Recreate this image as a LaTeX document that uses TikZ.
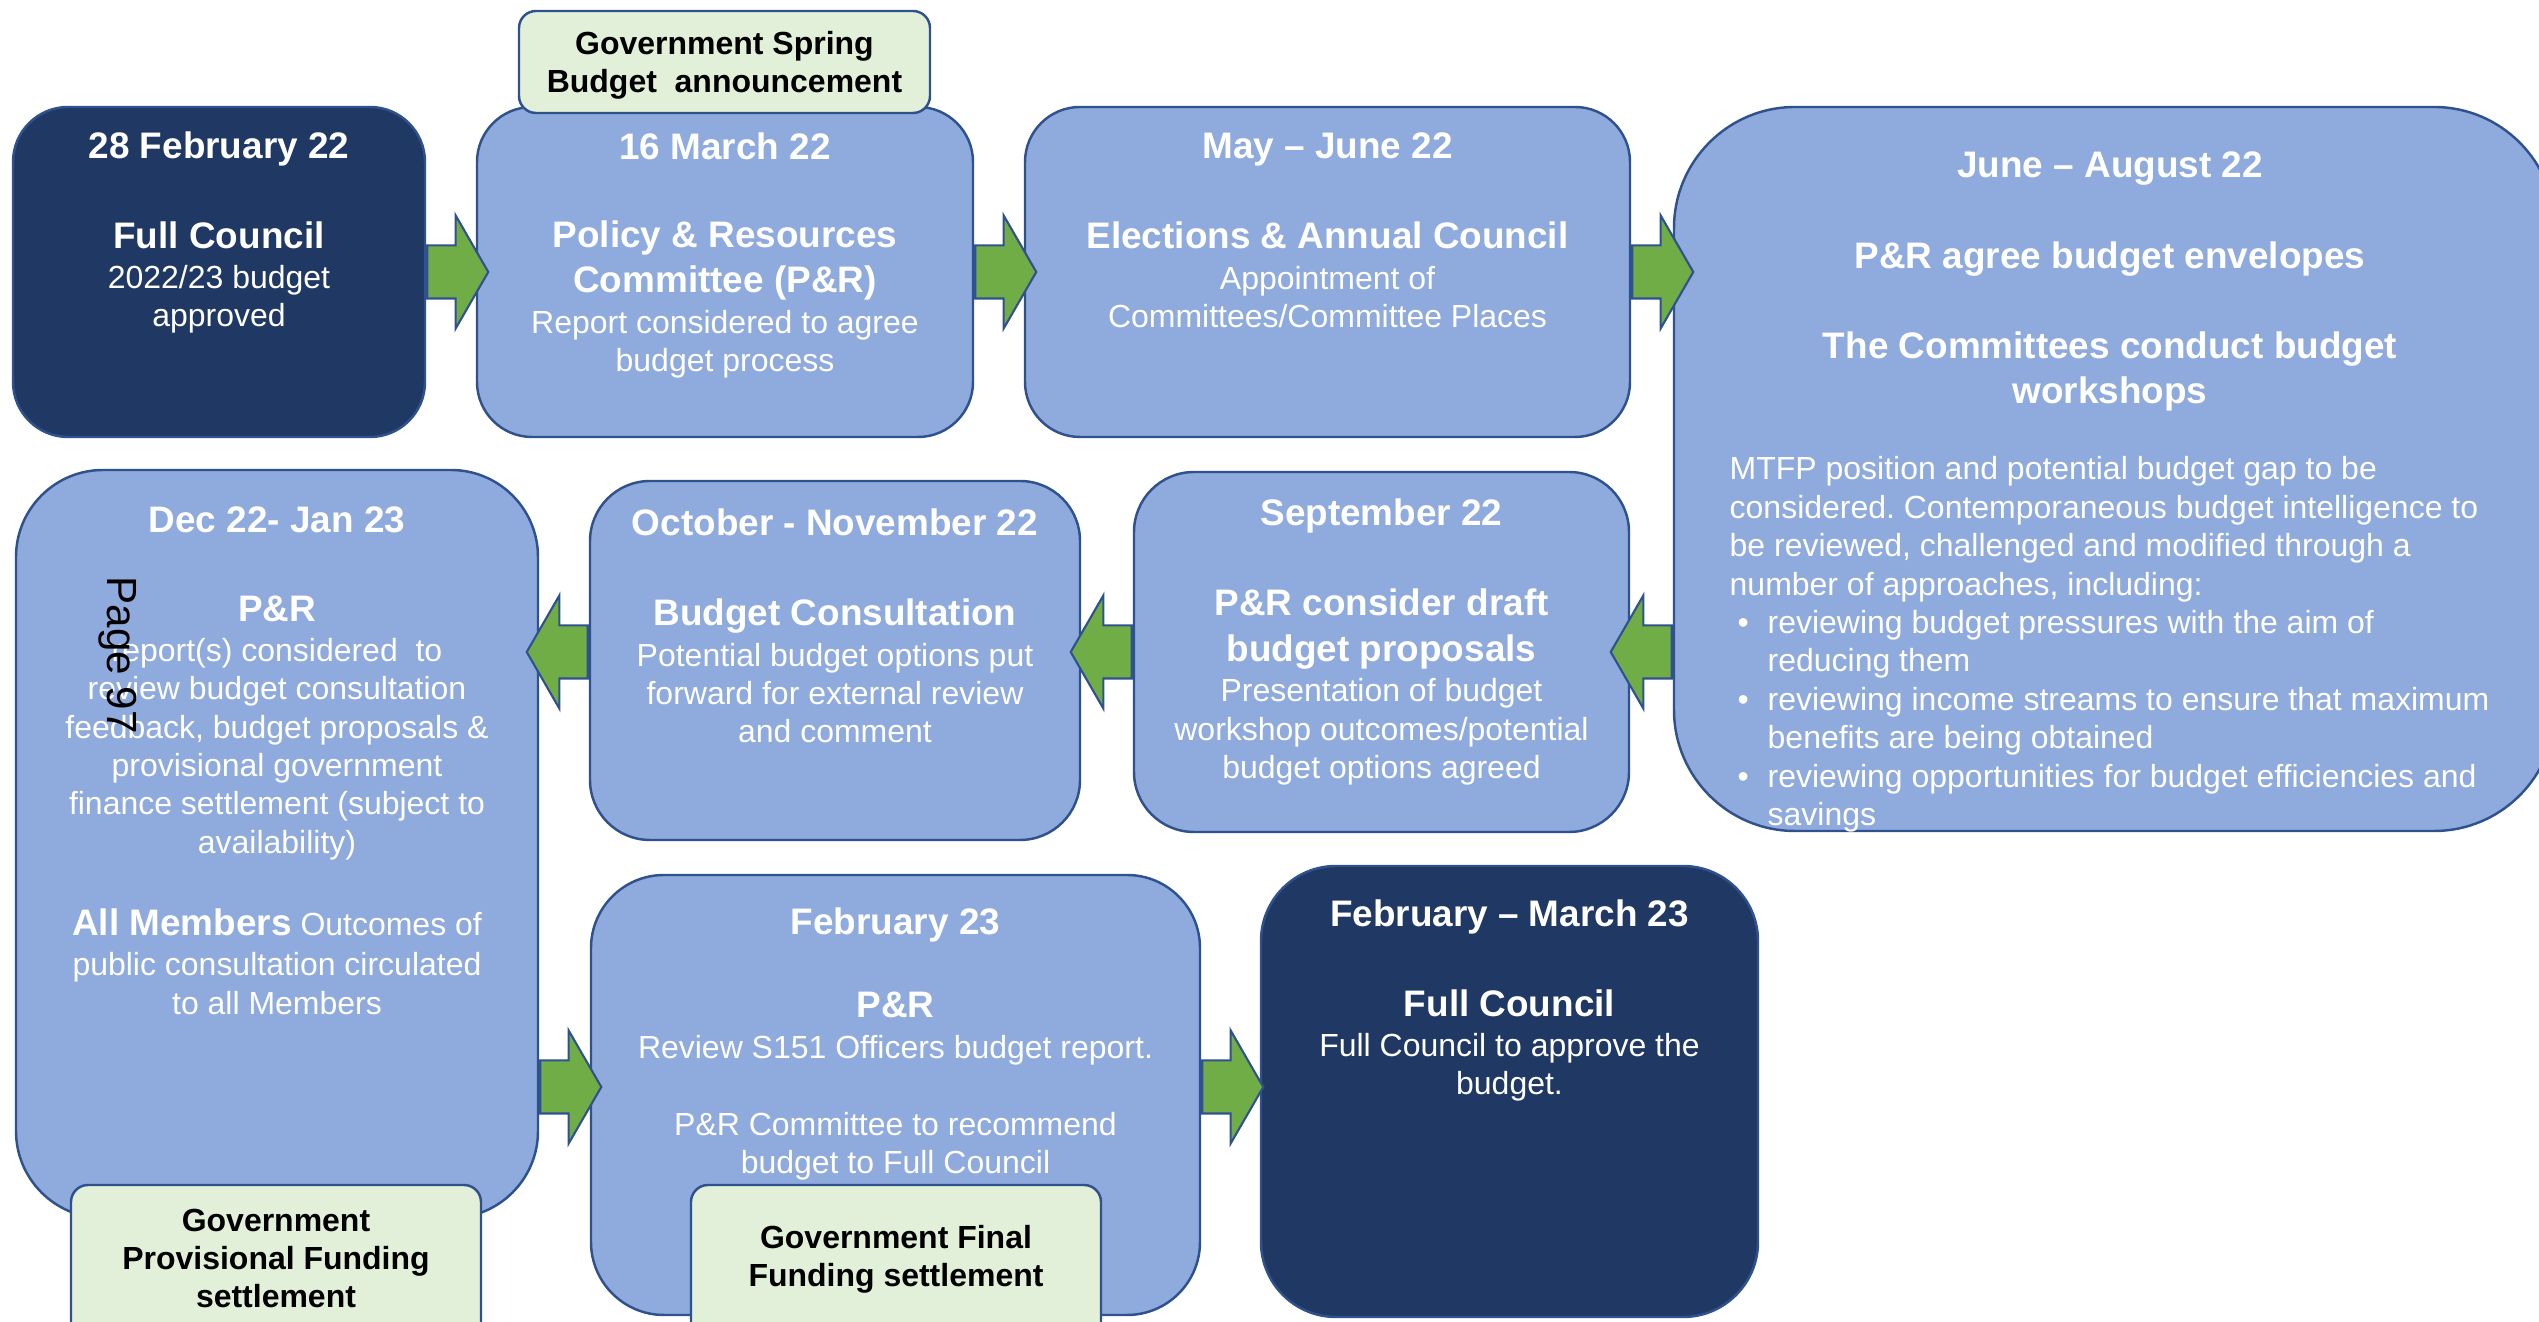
\documentclass[tikz,border=0pt]{standalone}
\usepackage{fontspec}
\setmainfont{Liberation Sans}
\usetikzlibrary{shapes.arrows}
\frenchspacing

% --- colors ---
\definecolor{navycol}{RGB}{32,56,100}
\definecolor{skycol}{RGB}{143,170,220}
\definecolor{edgecol}{RGB}{47,82,143}
\definecolor{leafcol}{RGB}{112,173,71}
\definecolor{mintcol}{RGB}{226,240,217}

\tikzset{
  stage/.style={draw=edgecol, line width=0.7pt, inner sep=0pt},
  darkstage/.style={stage, fill=navycol},
  lightstage/.style={stage, fill=skycol},
  govnote/.style={stage, fill=mintcol, rounded corners=0.17cm},
  headtxt/.style={text=white, font=\fontsize{10.5}{12.8}\selectfont\bfseries,
                  align=center, inner sep=0pt},
  bodytxt/.style={text=white, font=\fontsize{9.1}{10.9}\selectfont,
                  align=center, inner sep=0pt},
  notetxt/.style={text=black, font=\fontsize{9.1}{10.7}\selectfont\bfseries,
                  align=center, inner sep=0pt},
  flowarrow/.style={single arrow, draw=edgecol, fill=leafcol, line width=0.6pt,
                    minimum height=0.61cm, inner xsep=0pt, inner ysep=0.255cm,
                    single arrow head extend=0.30cm, single arrow tip angle=120},
}

\begin{document}
\begin{tikzpicture}

\useasboundingbox (0,0) rectangle (25.39,13.22);

% --- top row ---
\node[darkstage, minimum width=4.12cm, minimum height=3.30cm, rounded corners=0.55cm]
    (feb22) at (2.19,10.50) {};
\node[headtxt] (feb22-date) at (2.19,11.73) {28 February 22};
\node[headtxt] (feb22-head) at (2.19,10.87) {Full Council};
\node[bodytxt] (feb22-body) at (2.19,10.225) {2022/23 budget\\approved};

\node[lightstage, minimum width=4.96cm, minimum height=3.30cm, rounded corners=0.55cm]
    (mar22) at (7.25,10.50) {};
\node[govnote, minimum width=4.11cm, minimum height=1.02cm] (spring) at (7.245,12.60) {};
\node[notetxt] (spring-txt) at (7.245,12.565) {Government Spring\\Budget\ \ announcement};
\node[headtxt] (mar22-date) at (7.25,11.76) {16 March 22};
\node[headtxt] (mar22-head) at (7.25,10.615) {Policy \& Resources\\Committee (P\&R)};
\node[bodytxt] (mar22-body) at (7.25,9.775) {Report considered to agree\\budget process};

\node[lightstage, minimum width=6.05cm, minimum height=3.30cm, rounded corners=0.55cm]
    (mayjun) at (13.275,10.50) {};
\node[headtxt] (mayjun-date) at (13.275,11.73) {May -- June 22};
\node[headtxt] (mayjun-head) at (13.275,10.87) {Elections \& Annual Council};
\node[bodytxt] (mayjun-body) at (13.275,10.25) {Appointment of\\Committees/Committee Places};

\node[lightstage, minimum width=8.81cm, minimum height=7.24cm, rounded corners=1.21cm]
    (junaug) at (21.145,8.53) {};
\node[headtxt] (junaug-date) at (21.10,11.53) {June -- August 22};
\node[headtxt] (junaug-head) at (21.10,10.63) {P\&R agree budget envelopes};
\node[headtxt] (junaug-work) at (21.10,9.51) {The Committees conduct budget\\workshops};
\node[bodytxt, align=left, anchor=west, font=\fontsize{9.1}{10.93}\selectfont]
    (junaug-body) at (17.29,6.775) {MTFP position and potential budget gap to be\\
    considered. Contemporaneous budget intelligence to\\
    be reviewed, challenged and modified through a\\
    number of approaches, including:\\
    \hspace*{0.08cm}\makebox[0.30cm][l]{\textbullet}reviewing budget pressures with the aim of\\
    \hspace*{0.38cm}reducing them\\
    \hspace*{0.08cm}\makebox[0.30cm][l]{\textbullet}reviewing income streams to ensure that maximum\\
    \hspace*{0.38cm}benefits are being obtained\\
    \hspace*{0.08cm}\makebox[0.30cm][l]{\textbullet}reviewing opportunities for budget efficiencies and\\
    \hspace*{0.38cm}savings};

% --- middle row ---
\node[lightstage, minimum width=5.22cm, minimum height=7.48cm, rounded corners=0.87cm]
    (dec) at (2.77,4.78) {};
\node[govnote, minimum width=4.10cm, minimum height=1.55cm] (prov) at (2.76,0.595) {};
\node[notetxt] (prov-txt) at (2.76,0.635) {Government\\Provisional Funding\\settlement};
\node[headtxt] (dec-date) at (2.77,8.025) {Dec 22- Jan 23};
\node[headtxt] (dec-head) at (2.77,7.135) {P\&R};
\node[bodytxt] (dec-body) at (2.77,5.73) {report(s) considered\ \ to\\review budget consultation\\
    feedback, budget proposals \&\\provisional government\\
    finance settlement (subject to\\availability)};
\node[bodytxt, font=\fontsize{9.1}{11.2}\selectfont] (dec-members) at (2.77,3.60)
    {{\fontsize{10.5}{12.8}\selectfont\bfseries All Members} Outcomes of\\
    public consultation circulated\\to all Members};

\node[lightstage, minimum width=4.90cm, minimum height=3.59cm, rounded corners=0.60cm]
    (oct) at (8.35,6.615) {};
\node[headtxt] (oct-date) at (8.35,8.00) {October - November 22};
\node[headtxt] (oct-head) at (8.35,7.06) {Budget Consultation};
\node[bodytxt] (oct-body) at (8.35,6.29) {Potential budget options put\\
    forward for external review\\and comment};

\node[lightstage, minimum width=4.95cm, minimum height=3.60cm, rounded corners=0.60cm]
    (sept) at (13.815,6.70) {};
\node[headtxt] (sept-date) at (13.815,8.06) {September 22};
\node[headtxt, font=\fontsize{10.5}{13.1}\selectfont\bfseries] (sept-head) at (13.815,6.93)
    {P\&R consider draft\\budget proposals};
\node[bodytxt] (sept-body) at (13.815,5.90) {Presentation of budget\\
    workshop outcomes/potential\\budget options agreed};

% --- bottom row ---
\node[lightstage, minimum width=6.09cm, minimum height=4.40cm, rounded corners=0.73cm]
    (feb23) at (8.955,2.27) {};
\node[govnote, minimum width=4.10cm, minimum height=1.55cm] (final) at (8.96,0.595) {};
\node[notetxt] (final-txt) at (8.96,0.625) {Government Final\\Funding settlement};
\node[headtxt] (feb23-date) at (8.955,3.97) {February 23};
\node[headtxt] (feb23-head) at (8.955,3.17) {P\&R};
\node[bodytxt] (feb23-body) at (8.955,2.72) {Review S151 Officers budget report.};
\node[bodytxt] (feb23-rec) at (8.955,1.755) {P\&R Committee to recommend\\budget to Full Council};

\node[darkstage, minimum width=4.97cm, minimum height=4.51cm, rounded corners=0.75cm]
    (febmar) at (15.095,2.305) {};
\node[headtxt] (febmar-date) at (15.095,4.05) {February -- March 23};
\node[headtxt] (febmar-head) at (15.095,3.19) {Full Council};
\node[bodytxt] (febmar-body) at (15.095,2.55) {Full Council to approve the\\budget.};

% --- green flow arrows ---
\node[flowarrow, anchor=tail] (a1) at (feb22.east) {};
\node[flowarrow, anchor=tail] (a2) at (mar22.east) {};
\node[flowarrow, anchor=tail] (a3) at (mayjun.east) {};
\node[flowarrow, shape border rotate=180, anchor=tail] (a4) at (junaug.west |- sept.west) {};
\node[flowarrow, shape border rotate=180, anchor=tail] (a5) at (sept.west) {};
\node[flowarrow, shape border rotate=180, anchor=tail] (a6) at (oct.west |- sept.west) {};
\node[flowarrow, anchor=tail] (a7) at ([yshift=0.08cm]dec.east |- feb23.west) {};
\node[flowarrow, anchor=tail] (a8) at ([yshift=0.08cm]feb23.east) {};

% --- page number ---
\node[rotate=-90, font=\fontsize{12}{14}\selectfont, inner sep=0pt] (pageno) at (1.18,6.67) {Page 97};

\end{tikzpicture}
\end{document}
